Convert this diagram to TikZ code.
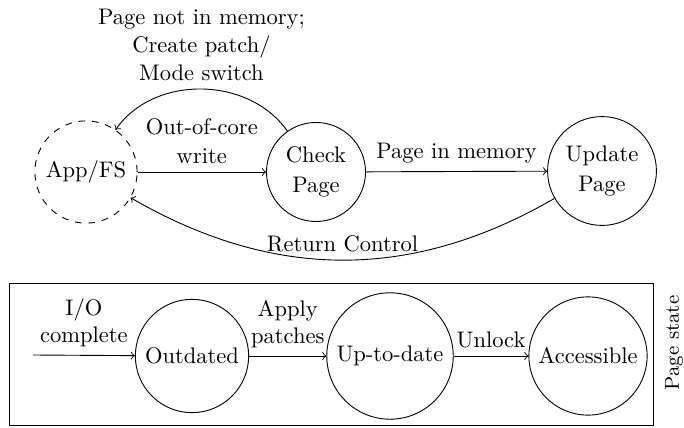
\documentclass[tikz,border=0pt]{standalone}
\begin{document}
\begin{tikzpicture}[x=0.444pt,y=0.444pt,
    state/.style={circle,draw,align=center},
    flow/.style={->},
    lbl/.style={align=center}]
\useasboundingbox (0,0) rectangle (684,427);
% request handling
\node[state,dashed] (app) at (86,255) {App/FS};
\node[state] (check) at (316,255) {Check\\[1pt]Page};
\node[state] (update) at (602,256) {Update\\[1pt]Page};
\draw[flow] (app) -- node[above,lbl]{Out-of-core\\[1pt]write} (check);
\draw[flow] (check) -- node[above]{Page in memory} (update);
\draw[flow] (check) to[out=125,in=55]
  node[above,lbl]{Page not in memory;\\[0.5pt]Create patch/\\[0.5pt]Mode switch} (app);
\draw[flow] (update) to[out=210,in=-30] node[above]{Return Control} (app);
% page state machine
\node[draw,minimum width=644*0.444pt,minimum height=142*0.444pt,anchor=south west,inner sep=0pt] (box) at (9,1) {};
\coordinate (io) at (33,72);
\node[state] (outdated) at (192,71) {Outdated};
\node[state] (uptodate) at (390,71) {Up-to-date};
\node[state] (access) at (588,71) {Accessible};
\draw[flow] (io) -- node[above,lbl]{I/O\\complete} (outdated);
\draw[flow] (outdated) -- node[above,lbl]{Apply\\patches} (uptodate);
\draw[flow] (uptodate) -- node[above]{Unlock} (access);
\node[rotate=90,font=\small] (pstate) at (674,84) {Page state};
\end{tikzpicture}
\end{document}
